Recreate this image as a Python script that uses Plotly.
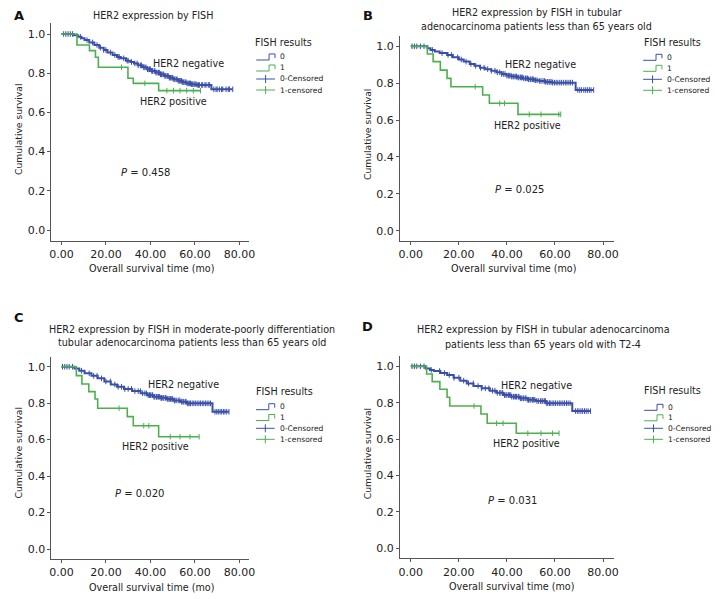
import numpy as np
import plotly.graph_objects as go

# The page places the plot 8 px in from the top-left corner, so the figure is
# sized to fit the window and every pixel position is measured from (8, 8).
OFF = 8
W, H = 727 - OFF, 599 - OFF
BLUE = "#3a4fa8"
GREEN = "#4db04f"
FONT = "DejaVu Sans"
TXT = "#222222"

# ---------------- data ----------------
x_tick_vals = [0, 20, 40, 60, 80]
x_tick_text = ["0.00", "20.00", "40.00", "60.00", "80.00"]
y_tick_vals = [0.0, 0.2, 0.4, 0.6, 0.8, 1.0]
y_tick_text = ["0.0", "0.2", "0.4", "0.6", "0.8", "1.0"]

# Panel A
a_neg_t = [0, 5.5, 7.4, 9, 10.4, 12.5, 14.8, 17, 19, 20.7, 23, 25, 26.7, 29, 31, 32.6, 34.5,
           36.5, 38.5, 40.5, 42.5, 44.4, 46.5, 48.5, 50.4, 52.5, 54.5, 56.3, 58.5, 60.7, 67.4, 77]
a_neg_s = [1.0, .993, .986, .978, .969, .957, .944, .930, .918, .906, .893, .883, .876, .864, .857,
           .850, .840, .830, .820, .811, .803, .794, .786, .777, .769, .761, .754, .748, .744, .740,
           .718, .718]
a_neg_c = [1.0, 2.0, 3.0, 4.0, 5.0, 8.5, 11.5, 14.0, 16.0, 17.5, 19.0, 20.0, 22.0, 24.0, 25.5,
           26.0, 28.0, 29.5, 30.0, 31.5, 33.0, 34.0, 34.5, 35.5, 36.0, 37.0, 37.5, 38.0, 38.7, 39.0,
           39.6, 40.0, 40.6, 41.0, 41.7, 42.0, 42.5, 43.0, 43.6, 44.0, 44.5, 45.0, 45.6, 46.0, 46.5,
           47.0, 47.6, 48.0, 48.5, 49.0, 49.6, 50.0, 50.5, 51.0, 51.6, 52.0, 52.5, 53.0, 53.6, 54.0,
           54.5, 55.0, 55.6, 56.0, 56.5, 57.0, 57.6, 58.0, 58.5, 59.0, 59.6, 60.0, 60.5, 61.0, 61.6,
           62.0, 63.0, 63.5, 64.5, 65.0, 66.0, 66.5, 68.5, 69.5, 70.0, 71.0, 72.0, 72.5, 74.0, 75.0,
           75.5, 77.0]
a_pos_t = [0, 7.0, 12.6, 15.3, 16.6, 29.9, 32.3, 43.7, 62.5]
a_pos_s = [1.0, .944, .915, .881, .830, .774, .748, .711, .711]
a_pos_c = [27.0, 37.5, 47.4, 50.4, 53.3, 56.3, 59.3, 62.5]

# Panel B
b_neg_t = [0, 6.9, 8.2, 10, 12, 15.1, 17.5, 20, 22, 24.5, 26.5, 28.8, 31, 33.5, 35.7, 37.8, 39.8,
           42, 44.5, 46.7, 49, 51.5, 53.5, 56, 59, 68.6, 76.1]
b_neg_s = [1.0, .990, .980, .972, .963, .953, .940, .928, .917, .904, .894, .884, .876, .867, .859,
           .850, .841, .836, .831, .826, .821, .816, .812, .807, .803, .763, .763]
b_neg_c = [0.5, 1.5, 2.5, 4.0, 5.5, 9.0, 13.0, 15.5, 17.0, 19.5, 21.0, 23.0, 25.0, 27.0, 29.0,
           30.5, 32.0, 33.5, 35.0, 36.0, 37.0, 37.8, 38.5, 39.2, 40.0, 40.6, 41.0, 41.7, 42.0, 42.6,
           43.0, 43.7, 44.0, 44.6, 45.0, 45.7, 46.0, 46.6, 47.0, 47.7, 48.0, 48.6, 49.0, 49.7, 50.0,
           50.6, 51.0, 51.7, 52.0, 52.6, 53.5, 54.2, 55.0, 55.6, 56.0, 56.7, 57.0, 57.6, 58.0, 58.7,
           59.0, 59.8, 60.5, 61.2, 62.0, 62.7, 63.5, 64.3, 65.0, 65.8, 66.5, 67.3, 69.5, 70.3, 71.0,
           72.0, 72.8, 73.5, 74.3, 75.0, 76.1]
b_pos_t = [0, 6.9, 9.3, 12.3, 15.1, 16.7, 29.9, 32.7, 44.6, 62.4]
b_pos_s = [1.0, .958, .917, .871, .826, .781, .736, .691, .631, .631]
b_pos_c = [26.8, 37.0, 39.0, 49.3, 54.2, 61.6, 62.4]

# Panel C
c_neg_t = [0, 5.9, 8, 10.4, 13.5, 16.3, 19.3, 22.2, 25, 28.1, 31.8, 35.6, 38.5, 41.5, 44.5, 47.4,
           50.5, 53.3, 56.3, 67.9, 75.3]
c_neg_s = [1.0, .990, .978, .964, .950, .936, .919, .903, .890, .878, .866, .854, .844, .835, .829,
           .823, .815, .808, .799, .753, .753]
c_neg_c = [0.5, 1.5, 2.5, 3.5, 5.0, 9.0, 12.5, 14.5, 16.0, 18.0, 20.0, 22.0, 24.0, 25.5, 27.0,
           28.5, 30.0, 31.5, 33.0, 34.5, 35.5, 36.5, 37.5, 38.2, 39.0, 39.6, 40.0, 40.7, 41.0, 41.6,
           42.0, 42.7, 43.0, 43.6, 44.0, 44.7, 45.0, 45.6, 46.0, 46.7, 47.0, 47.6, 48.0, 48.7, 49.0,
           49.6, 50.0, 50.7, 51.0, 51.6, 52.5, 53.2, 54.0, 54.6, 55.0, 55.7, 56.0, 56.6, 57.0, 57.7,
           58.0, 58.8, 59.5, 60.2, 61.0, 61.8, 62.5, 63.3, 64.0, 64.8, 65.5, 66.3, 67.0, 69.0, 69.8,
           70.5, 71.3, 72.0, 72.8, 73.5, 74.3, 75.3]
c_pos_t = [0, 6.7, 9.2, 12.3, 15.1, 16.3, 29.6, 32.3, 43.7, 61.9]
c_pos_s = [1.0, .951, .905, .863, .823, .772, .726, .676, .616, .616]
c_pos_c = [25.9, 37.0, 39.3, 48.9, 53.3, 57.8, 61.9]

# Panel D
d_neg_t = [0, 6.2, 8, 9.6, 12.3, 15.1, 17.8, 20.6, 23.3, 26.1, 29.5, 32.9, 35.6, 38.4, 41.8, 45.3,
           48.7, 52.1, 56.3, 67.2, 74.8]
d_neg_s = [1.0, .988, .980, .974, .963, .952, .937, .921, .906, .892, .879, .866, .854, .842, .833,
           .824, .816, .809, .797, .754, .754]
d_neg_c = [0.5, 1.5, 2.5, 4.0, 5.5, 8.5, 12.0, 14.0, 16.0, 18.0, 20.0, 22.0, 24.0, 26.0, 28.0,
           29.5, 31.0, 32.5, 34.0, 35.0, 36.0, 37.0, 37.5, 38.2, 39.0, 39.6, 40.0, 40.7, 41.0, 41.6,
           42.0, 42.7, 43.0, 43.6, 44.0, 44.7, 45.0, 45.6, 46.0, 46.7, 47.0, 47.6, 48.0, 48.7, 49.0,
           49.6, 50.0, 50.7, 51.0, 51.6, 52.5, 53.2, 54.0, 54.6, 55.0, 55.7, 56.0, 56.6, 57.0, 57.7,
           58.0, 58.8, 59.5, 60.2, 61.0, 61.8, 62.5, 63.3, 64.0, 64.8, 65.5, 66.3, 68.5, 69.3, 70.0,
           70.8, 71.5, 72.3, 73.0, 73.8, 74.8]
d_pos_t = [0, 6.6, 8.9, 12.1, 15.1, 16.2, 29.2, 31.8, 43.9, 61.7]
d_pos_s = [1.0, .958, .916, .874, .830, .782, .738, .687, .632, .632]
d_pos_c = [26.3, 35.7, 38.4, 48.7, 54.2, 59.0, 61.7]

p_values = ["0.458", "0.025", "0.020", "0.031"]
panel_letters = ["A", "B", "C", "D"]
panel_titles = [
    ["HER2 expression by FISH"],
    ["HER2 expression by FISH in tubular", "adenocarcinoma patients less than 65 years old"],
    ["HER2 expression by FISH in moderate-poorly differentiation",
     "tubular adenocarcinoma patients less than 65 years old"],
    ["HER2 expression by FISH in tubular adenocarcinoma",
     "patients less than 65 years old with T2-4"],
]
legend_title = "FISH results"
legend_labels = ["0", "1", "0-Censored", "1-censored"]

# ---------------- layout geometry (window pixels) ----------------
X_RANGE = [-4.5, 84.5]
Y_RANGE = [-0.055, 1.055]
panels = [
    dict(neg=(a_neg_t, a_neg_s, a_neg_c), pos=(a_pos_t, a_pos_s, a_pos_c),
         t0=60.0, xs=2.25, y1=34.0, y0=230.0,
         letter=(17, 15.5), title_x=152.5, title_y=[16],
         neg_lab=(56.9, .852), pos_lab=(50.2, .658), p_lab=(37.6, .292),
         ytitle=(16, 129), xtitle=(151.3, 268.3),
         leg=dict(tx=254, ty=42, sx=257, items=[57, 68, 79, 90])),
    dict(neg=(b_neg_t, b_neg_s, b_neg_c), pos=(b_pos_t, b_pos_s, b_pos_c),
         t0=413.3, xs=2.43, y1=46.3, y0=230.7,
         letter=(370, 15.5), title_x=540.8, title_y=[13, 27],
         neg_lab=(53.9, .899), pos_lab=(48.7, .573), p_lab=(45.1, .221),
         ytitle=(370, 134), xtitle=(517.5, 268.7),
         leg=dict(tx=647, ty=42.3, sx=648.3, items=[57.3, 68.3, 79.3, 90.3])),
    dict(neg=(c_neg_t, c_neg_s, c_neg_c), pos=(c_pos_t, c_pos_s, c_pos_c),
         t0=60.0, xs=2.25, y1=366.7, y0=549.0,
         letter=(17, 317.5), title_x=192.3, title_y=[329, 342.3],
         neg_lab=(54.8, .900), pos_lab=(42.5, .561), p_lab=(35.3, .302),
         ytitle=(17, 452.5), xtitle=(150.8, 587.0),
         leg=dict(tx=255, ty=391, sx=256.7, items=[406.7, 417.5, 428.3, 439.3])),
    dict(neg=(d_neg_t, d_neg_s, d_neg_c), pos=(d_pos_t, d_pos_s, d_pos_c),
         t0=413.3, xs=2.43, y1=366.3, y0=548.3,
         letter=(370, 326.7), title_x=547.3, title_y=[329, 344.3],
         neg_lab=(52.4, .897), pos_lab=(48.3, .577), p_lab=(42.2, .260),
         ytitle=(369, 453.3), xtitle=(515.5, 586.7),
         leg=dict(tx=647.3, ty=390.7, sx=649.3, items=[407.3, 417.8, 428.3, 439.3])),
]


def fx(px):
    return (px - OFF) / W


def fy(py):
    return 1 - (py - OFF) / H


def step_value(t, s, c):
    t = np.asarray(t)
    s = np.asarray(s)
    idx = np.searchsorted(t, np.asarray(c), side="right") - 1
    return s[np.clip(idx, 0, len(s) - 1)]


fig = go.Figure()
layout = dict(
    width=W, height=H, margin=dict(l=0, r=0, t=0, b=0),
    paper_bgcolor="white", plot_bgcolor="white", showlegend=False,
    font=dict(family=FONT, color=TXT, size=10),
)
annotations = []
shapes = []

for i, p in enumerate(panels):
    k = "" if i == 0 else str(i + 1)
    xa, ya = "x" + k, "y" + k
    x_left = p["t0"] + X_RANGE[0] * p["xs"]
    x_right = p["t0"] + X_RANGE[1] * p["xs"]
    unit = p["y0"] - p["y1"]
    y_top = p["y1"] - (Y_RANGE[1] - 1) * unit
    y_bot = p["y0"] - Y_RANGE[0] * unit
    axis_common = dict(
        showline=True, linecolor="#555555", linewidth=1, ticks="outside", ticklen=3,
        tickcolor="#555555", tickwidth=1, showgrid=False, zeroline=False,
        tickfont=dict(family=FONT, size=11, color=TXT), fixedrange=True,
    )
    layout["xaxis" + k] = dict(axis_common, domain=[fx(x_left), fx(x_right)], range=X_RANGE,
                               anchor=ya, tickvals=x_tick_vals, ticktext=x_tick_text)
    layout["yaxis" + k] = dict(axis_common, domain=[fy(y_bot), fy(y_top)], range=Y_RANGE,
                               anchor=xa, tickvals=y_tick_vals, ticktext=y_tick_text)

    for (t, s, c), col, lw in ((p["neg"], BLUE, 2.0), (p["pos"], GREEN, 1.6)):
        fig.add_trace(go.Scatter(x=t, y=s, mode="lines", xaxis=xa, yaxis=ya,
                                 line=dict(color=col, width=lw, shape="hv"),
                                 hoverinfo="skip"))
        fig.add_trace(go.Scatter(x=c, y=step_value(t, s, c), mode="markers", xaxis=xa, yaxis=ya,
                                 marker=dict(symbol="line-ns", size=4,
                                             line=dict(color=col, width=1)),
                                 hoverinfo="skip"))

    annotations.append(dict(text="<b>%s</b>" % panel_letters[i], x=fx(p["letter"][0]),
                            y=fy(p["letter"][1]), xref="paper", yref="paper",
                            xanchor="center", yanchor="middle", showarrow=False,
                            font=dict(family=FONT, size=13, color="#111111")))
    for line, ty in zip(panel_titles[i], p["title_y"]):
        annotations.append(dict(text=line, x=fx(p["title_x"]), y=fy(ty), xref="paper",
                                yref="paper", xanchor="center", yanchor="middle",
                                showarrow=False, font=dict(family=FONT, size=9.6, color=TXT)))
    for txt, (lx, ly) in (("HER2 negative", p["neg_lab"]), ("HER2 positive", p["pos_lab"])):
        annotations.append(dict(text=txt, x=lx, y=ly, xref=xa, yref=ya, xanchor="center",
                                yanchor="middle", showarrow=False,
                                font=dict(family=FONT, size=9.6, color=TXT)))
    annotations.append(dict(text="<i>P</i> = " + p_values[i], x=p["p_lab"][0], y=p["p_lab"][1],
                            xref=xa, yref=ya, xanchor="center", yanchor="middle",
                            showarrow=False, font=dict(family=FONT, size=10, color=TXT)))
    annotations.append(dict(text="Cumulative survival", x=fx(p["ytitle"][0]), y=fy(p["ytitle"][1]),
                            xref="paper", yref="paper", xanchor="center", yanchor="middle",
                            textangle=-90, showarrow=False,
                            font=dict(family=FONT, size=9.2, color=TXT)))
    annotations.append(dict(text="Overall survival time (mo)", x=fx(p["xtitle"][0]),
                            y=fy(p["xtitle"][1]), xref="paper", yref="paper",
                            xanchor="center", yanchor="middle", showarrow=False,
                            font=dict(family=FONT, size=9.6, color=TXT)))
    lg = p["leg"]
    annotations.append(dict(text=legend_title, x=fx(lg["tx"]), y=fy(lg["ty"]), xref="paper",
                            yref="paper", xanchor="left", yanchor="middle", showarrow=False,
                            font=dict(family=FONT, size=9.6, color=TXT)))
    sx = lg["sx"]
    for j, (lab, iy) in enumerate(zip(legend_labels, lg["items"])):
        col = BLUE if j % 2 == 0 else GREEN
        if j < 2:
            path = "M %f %f L %f %f L %f %f L %f %f L %f %f" % (
                fx(sx), fy(iy + 3), fx(sx + 13), fy(iy + 3), fx(sx + 13), fy(iy - 3),
                fx(sx + 19), fy(iy - 3), fx(sx + 19), fy(iy + 1))
            shapes.append(dict(type="path", path=path, xref="paper", yref="paper",
                               line=dict(color=col, width=1)))
        else:
            shapes.append(dict(type="line", x0=fx(sx), x1=fx(sx + 19), y0=fy(iy), y1=fy(iy),
                               xref="paper", yref="paper", line=dict(color=col, width=1)))
            shapes.append(dict(type="line", x0=fx(sx + 9.5), x1=fx(sx + 9.5), y0=fy(iy - 4),
                               y1=fy(iy + 4), xref="paper", yref="paper",
                               line=dict(color=col, width=1)))
        annotations.append(dict(text=lab, x=fx(sx + 22), y=fy(iy), xref="paper", yref="paper",
                                xanchor="left", yanchor="middle", showarrow=False,
                                font=dict(family=FONT, size=7.6, color=TXT)))

layout["annotations"] = annotations
layout["shapes"] = shapes
fig.update_layout(**layout)
fig.write_html("out.html")
